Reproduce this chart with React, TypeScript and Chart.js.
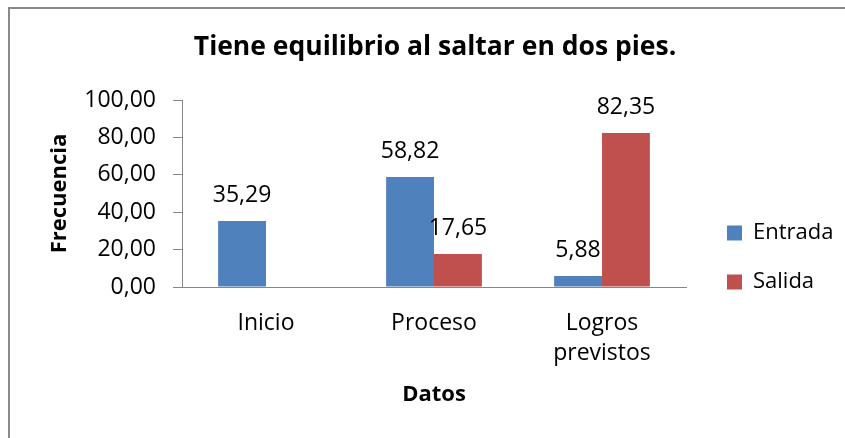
import { useEffect, useRef } from "react";
import { Chart, registerables } from "chart.js";

Chart.register(...registerables);

const titleText = "Tiene equilibrio al saltar en dos pies.";
const categories: (string | string[])[] = ["Inicio", "Proceso", ["Logros", "previstos"]];
const seriesNames = ["Entrada", "Salida"];
const entrada = [35.29, 58.82, 5.88];
const salida: (number | null)[] = [null, 17.65, 82.35];
const yMin = 0;
const yMax = 100;
const yStep = 20;
const xTitle = "Datos";
const yTitle = "Frecuencia";

const FONT = "'Open Sans', sans-serif";
const fmt = (v: number) => v.toFixed(2).replace(".", ",");

const dataLabels = {
  id: "dataLabels",
  afterDatasetsDraw(chart: any) {
    const ctx = chart.ctx;
    ctx.save();
    ctx.font = `23px ${FONT}`;
    ctx.fillStyle = "#000";
    ctx.textAlign = "center";
    ctx.textBaseline = "alphabetic";
    chart.data.datasets.forEach((ds: any, di: number) => {
      const meta = chart.getDatasetMeta(di);
      meta.data.forEach((el: any, i: number) => {
        const v = ds.data[i];
        if (v === null || v === undefined) return;
        ctx.fillText(fmt(v), el.x, el.y - 19);
      });
    });
    ctx.restore();
  },
};

export default function App() {
  const ref = useRef<HTMLCanvasElement>(null);
  useEffect(() => {
    if (!ref.current) return;
    const chart = new Chart(ref.current, {
      type: "bar",
      data: {
        labels: categories,
        datasets: [
          { label: seriesNames[0], data: entrada, backgroundColor: "#4F81BD" },
          { label: seriesNames[1], data: salida, backgroundColor: "#C0504D" },
        ],
      },
      options: {
        animation: false,
        responsive: false,
        layout: { padding: { left: 37.5, right: 12.5, top: 0, bottom: 0 } },
        datasets: { bar: { categoryPercentage: 0.57, barPercentage: 1 } },
        plugins: {
          title: {
            display: true,
            text: titleText,
            color: "#000",
            font: { family: FONT, size: 26.5, weight: "bold" },
            padding: { top: 31.5, bottom: 36.7 },
          },
          legend: {
            position: "right",
            title: { display: true, text: "", font: { size: 10 }, padding: { top: 65, bottom: 0 } },
            labels: {
              boxWidth: 15,
              boxHeight: 15,
              padding: 27,
              color: "#000",
              font: { family: FONT, size: 22 },
            },
          },
          tooltip: { enabled: false },
        },
        scales: {
          x: {
            grid: { display: false, drawTicks: false },
            border: { display: true, color: "#868686", width: 1 },
            ticks: {
              color: "#000",
              padding: 22,
              font: { family: FONT, size: 23, lineHeight: 1.3 },
              maxRotation: 0,
            },
            title: {
              display: true,
              text: xTitle,
              color: "#000",
              font: { family: FONT, size: 22, weight: "bold" },
              padding: { top: 0, bottom: 30 },
            },
            afterFit: (s: any) => {
              s.height = 151;
            },
          },
          y: {
            min: yMin,
            max: yMax,
            grid: { display: true, drawOnChartArea: false, tickLength: 9, color: "#868686" },
            border: { display: true, color: "#868686", width: 1 },
            ticks: {
              stepSize: yStep,
              color: "#000",
              padding: 17,
              font: { family: FONT, size: 23 },
              callback: (v: any) => fmt(Number(v)),
            },
            title: {
              display: true,
              text: yTitle,
              color: "#000",
              font: { family: FONT, size: 22, weight: "bold" },
              padding: { top: 9, bottom: 0 },
            },
            afterFit: (s: any) => {
              s.width = 144.5;
            },
          },
          yr: {
            type: "linear",
            position: "right",
            display: true,
            grid: { display: false },
            border: { display: false },
            ticks: { display: false },
            afterFit: (s: any) => {
              s.width = 14;
            },
          },
        },
      },
      plugins: [dataLabels],
    } as any);
    return () => chart.destroy();
  }, []);

  return (
    <div style={{ position: "fixed", left: 0, top: 0, width: 845, height: 438, overflow: "hidden", background: "#fff" }}>
      <div
        style={{
          position: "absolute",
          left: 8,
          top: 7,
          width: 1000,
          height: 1000,
          border: "2px solid #898989",
        }}
      />
      <canvas ref={ref} width={845} height={438} style={{ position: "absolute", left: 0, top: 0, width: 845, height: 438 }} />
    </div>
  );
}
